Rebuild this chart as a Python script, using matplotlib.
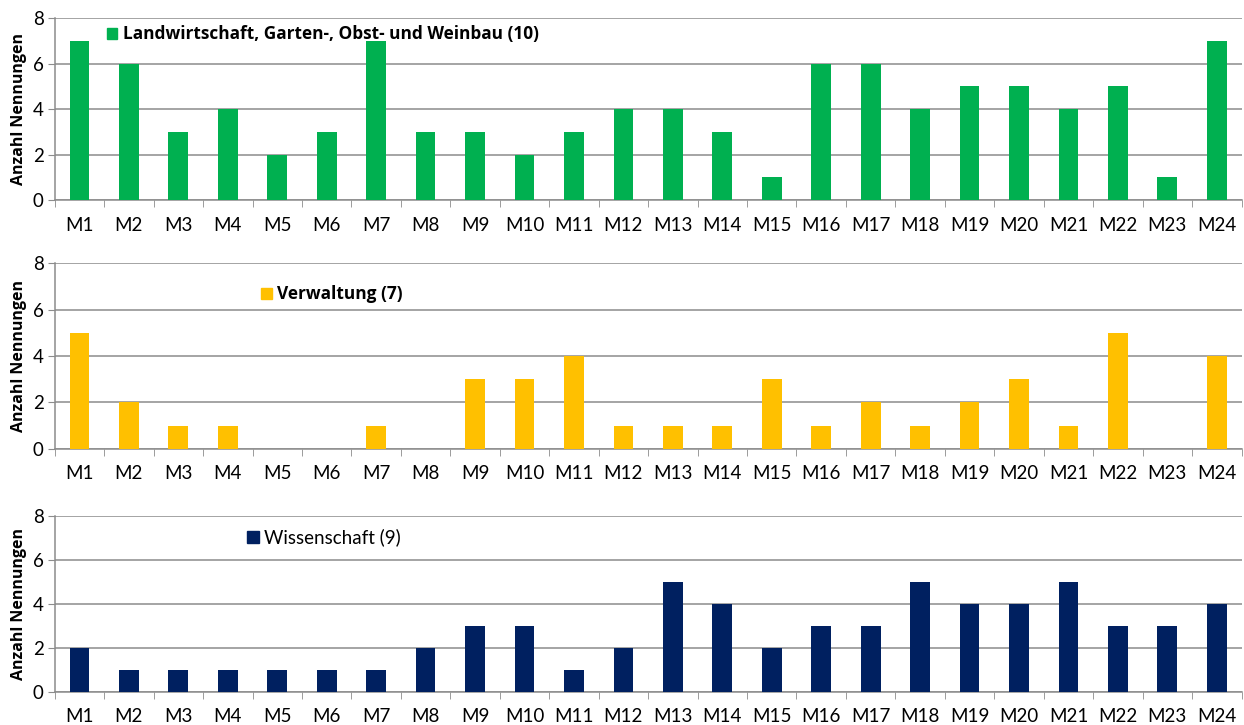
import matplotlib.pyplot as plt
from matplotlib.patches import Patch
import numpy as np

plt.rcParams['font.family'] = ['Lato', 'DejaVu Sans']
bold_family = ['Open Sans', 'DejaVu Sans']

labels = ["M%d" % i for i in range(1, 25)]
landwirtschaft = [7, 6, 3, 4, 2, 3, 7, 3, 3, 2, 3, 4, 4, 3, 1, 6, 6, 4, 5, 5, 4, 5, 1, 7]
verwaltung = [5, 2, 1, 1, 0, 0, 1, 0, 3, 3, 4, 1, 1, 1, 3, 1, 2, 1, 2, 3, 1, 5, 0, 4]
wissenschaft = [2, 1, 1, 1, 1, 1, 1, 2, 3, 3, 1, 2, 5, 4, 2, 3, 3, 5, 4, 4, 5, 3, 3, 4]

panels = [
    (landwirtschaft, "#00B050", "Landwirtschaft, Garten-, Obst- und Weinbau (10)", "bold",
     [0.044, 0.724, 0.954, 0.251], (0.031, 1.045)),
    (verwaltung, "#FFC000", "Verwaltung (7)", "bold",
     [0.044, 0.381, 0.954, 0.256], (0.161, 0.965)),
    (wissenschaft, "#002060", "Wissenschaft (9)", "normal",
     [0.044, 0.046, 0.954, 0.242], (0.148, 1.025)),
]

fig = plt.figure(figsize=(12.44, 7.25), dpi=100)
x = np.arange(len(labels))

for values, color, name, weight, rect, anchor in panels:
    ax = fig.add_axes(rect)
    ax.bar(x, values, width=0.4, color=color, zorder=3)
    ax.set_xlim(-0.5, len(labels) - 0.5)
    ax.set_ylim(0, 8)
    ax.set_yticks([0, 2, 4, 6, 8])
    ax.yaxis.grid(True, color="#8c8c8c", linewidth=1.1, zorder=0)
    ax.set_xticks(x)
    ax.set_xticklabels(labels, fontsize=13.5)
    ax.set_xticks(np.arange(-0.5, len(labels), 1), minor=True)
    ax.tick_params(axis='x', which='major', length=0, pad=12)
    ax.tick_params(axis='x', which='minor', length=5, color="#8c8c8c")
    ax.tick_params(axis='y', length=5, color="#8c8c8c", labelsize=13.5, pad=3)
    for s in ['top', 'right']:
        ax.spines[s].set_visible(False)
    for s in ['left', 'bottom']:
        ax.spines[s].set_color("#8c8c8c")
        ax.spines[s].set_linewidth(1.1)
    ax.set_ylabel("Anzahl Nennungen", fontsize=11.5, fontweight='bold',
                  family=bold_family, labelpad=4)
    if weight == 'bold':
        prop = {'size': 12.4, 'weight': 'bold', 'family': bold_family}
    else:
        prop = {'size': 13.5}
    ax.legend(handles=[Patch(color=color, label=name)], loc='upper left',
              bbox_to_anchor=anchor, frameon=False, handlelength=0.6,
              handleheight=0.6, handletextpad=0.3, prop=prop)

fig.savefig("out.png", dpi=100)
